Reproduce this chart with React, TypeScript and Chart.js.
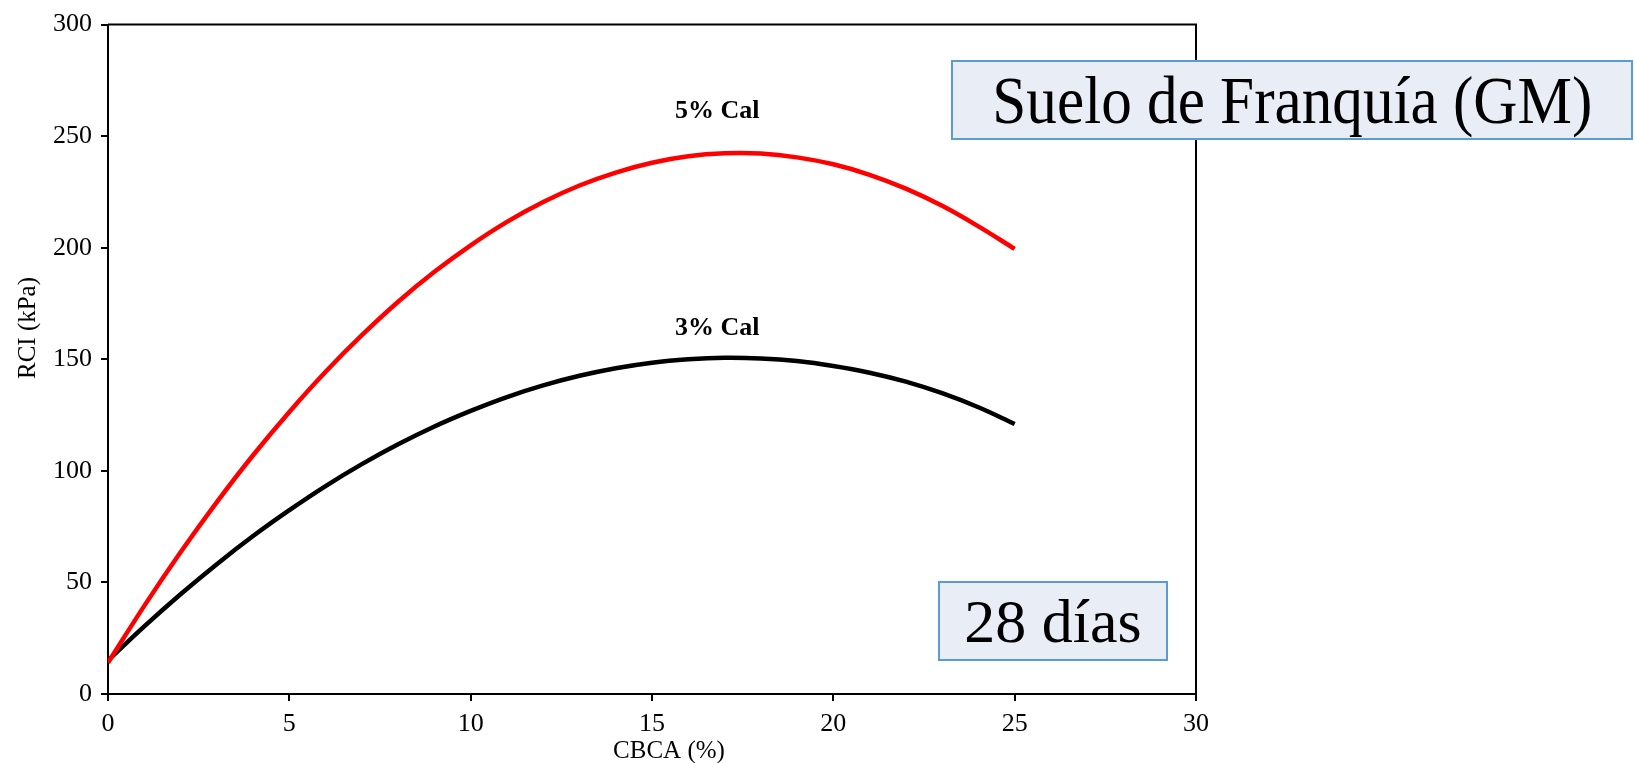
import { useEffect, useRef } from "react";
import { Chart, registerables } from "chart.js";

Chart.register(...registerables);

const SERIF = '"Liberation Serif", "Times New Roman", serif';

// CBCA (%) values where the curves were read
const CBCA = [0, 1, 2, 3, 4, 5, 6, 7, 8, 9, 10, 11, 12, 13, 14, 15, 16, 17, 18, 19, 20, 21, 22, 23, 24, 25];

// RCI (kPa)
const RCI_5_CAL = [14, 39.5, 63.5, 86, 107, 126.4, 144.4, 160.8, 175.8, 189.2, 201.1, 211.6, 220.5, 227.9, 233.7, 238.1, 241, 242.3, 242.2, 240.5, 237.4, 232.7, 226.5, 218.8, 209.6, 199.5];
const RCI_3_CAL = [15, 30.3, 44.7, 58.2, 70.8, 82.4, 93.2, 103, 111.9, 119.9, 126.9, 133.1, 138.3, 142.6, 146, 148.5, 150, 150.7, 150.4, 149.2, 147, 144, 140, 134.8, 128.5, 121];

const X_TICKS = [0, 5, 10, 15, 20, 25, 30];
const Y_TICKS = [0, 50, 100, 150, 200, 250, 300];

const CURVE_LABELS = ["5% Cal", "3% Cal"];
const X_TITLE = "CBCA (%)";
const Y_TITLE = "RCI (kPa)";
const SOIL_TEXT = "Suelo de Franquía (GM)";
const DAYS_TEXT = "28 días";

const framePlugin = {
  id: "frameAndLabels",
  afterDatasetsDraw(chart: any) {
    const { ctx, chartArea: a, scales } = chart;
    ctx.save();
    // top and right sides of the plot box
    ctx.strokeStyle = "#000";
    ctx.lineWidth = 2;
    ctx.beginPath();
    ctx.moveTo(a.left, a.top);
    ctx.lineTo(a.right, a.top);
    ctx.lineTo(a.right, a.bottom);
    ctx.stroke();

    // curve labels
    ctx.fillStyle = "#000";
    ctx.textAlign = "center";
    ctx.textBaseline = "middle";
    ctx.font = `bold 26px ${SERIF}`;
    ctx.fillText(CURVE_LABELS[0], scales.x.getPixelForValue(16.8), scales.y.getPixelForValue(261));
    ctx.fillText(CURVE_LABELS[1], scales.x.getPixelForValue(16.8), scales.y.getPixelForValue(164));

    // axis titles
    ctx.font = `25px ${SERIF}`;
    ctx.fillText(X_TITLE, 669, 751);
    ctx.translate(28, 328);
    ctx.rotate(-Math.PI / 2);
    ctx.fillText(Y_TITLE, 0, 0);
    ctx.restore();
  },
};

function RciChart() {
  const canvasRef = useRef<HTMLCanvasElement>(null);
  const chartRef = useRef<Chart | null>(null);

  useEffect(() => {
    if (!canvasRef.current) return;
    if (chartRef.current) chartRef.current.destroy();

    const axisCommon = {
      type: "linear" as const,
      grid: { display: true, drawOnChartArea: false, drawTicks: true, tickLength: 7, color: "#000", lineWidth: 2 },
      border: { display: true, color: "#000", width: 2 },
    };

    chartRef.current = new Chart(canvasRef.current, {
      type: "line",
      data: {
        datasets: [
          {
            label: CURVE_LABELS[0],
            data: CBCA.map((x, i) => ({ x, y: RCI_5_CAL[i] })),
            borderColor: "#FF0000",
            borderWidth: 4.5,
            pointRadius: 0,
            tension: 0.4,
            fill: false,
          },
          {
            label: CURVE_LABELS[1],
            data: CBCA.map((x, i) => ({ x, y: RCI_3_CAL[i] })),
            borderColor: "#000000",
            borderWidth: 4.5,
            pointRadius: 0,
            tension: 0.4,
            fill: false,
          },
        ],
      },
      options: {
        animation: false,
        responsive: true,
        maintainAspectRatio: false,
        layout: { padding: { left: 0, right: 439, top: 20, bottom: 0 } },
        plugins: { legend: { display: false }, tooltip: { enabled: false } },
        scales: {
          x: {
            ...axisCommon,
            min: 0,
            max: 30,
            afterBuildTicks: (axis: any) => { axis.ticks = X_TICKS.map(v => ({ value: v })); },
            afterFit: (scale: any) => { scale.height = 69; },
            ticks: { color: "#000", font: { family: SERIF, size: 26 }, padding: 8, maxRotation: 0 },
          },
          y: {
            ...axisCommon,
            min: 0,
            max: 300,
            afterBuildTicks: (axis: any) => { axis.ticks = Y_TICKS.map(v => ({ value: v })); },
            afterFit: (scale: any) => { scale.width = 108; },
            ticks: { color: "#000", font: { family: SERIF, size: 26 }, padding: 9 },
          },
        },
      },
      plugins: [framePlugin],
    });

    return () => { chartRef.current?.destroy(); };
  }, []);

  const boxStyle = {
    position: "absolute" as const,
    boxSizing: "border-box" as const,
    background: "#E9EDF6",
    border: "2px solid #5B9BD5",
    display: "flex",
    alignItems: "center",
    justifyContent: "center",
    fontFamily: SERIF,
    color: "#000",
    whiteSpace: "nowrap" as const,
  };

  return (
    <div style={{ position: "fixed", left: 0, top: 0, width: 1635, height: 763, background: "#fff" }}>
      <canvas ref={canvasRef} />
      <div style={{ ...boxStyle, left: 951, top: 60, width: 682, height: 80, fontSize: 68 }}>
        <span style={{ display: "inline-block", transform: "scaleX(0.9)" }}>{SOIL_TEXT}</span>
      </div>
      <div style={{ ...boxStyle, left: 938, top: 581, width: 230, height: 80, fontSize: 62 }}>{DAYS_TEXT}</div>
    </div>
  );
}

export default function App() {
  return <RciChart />;
}
